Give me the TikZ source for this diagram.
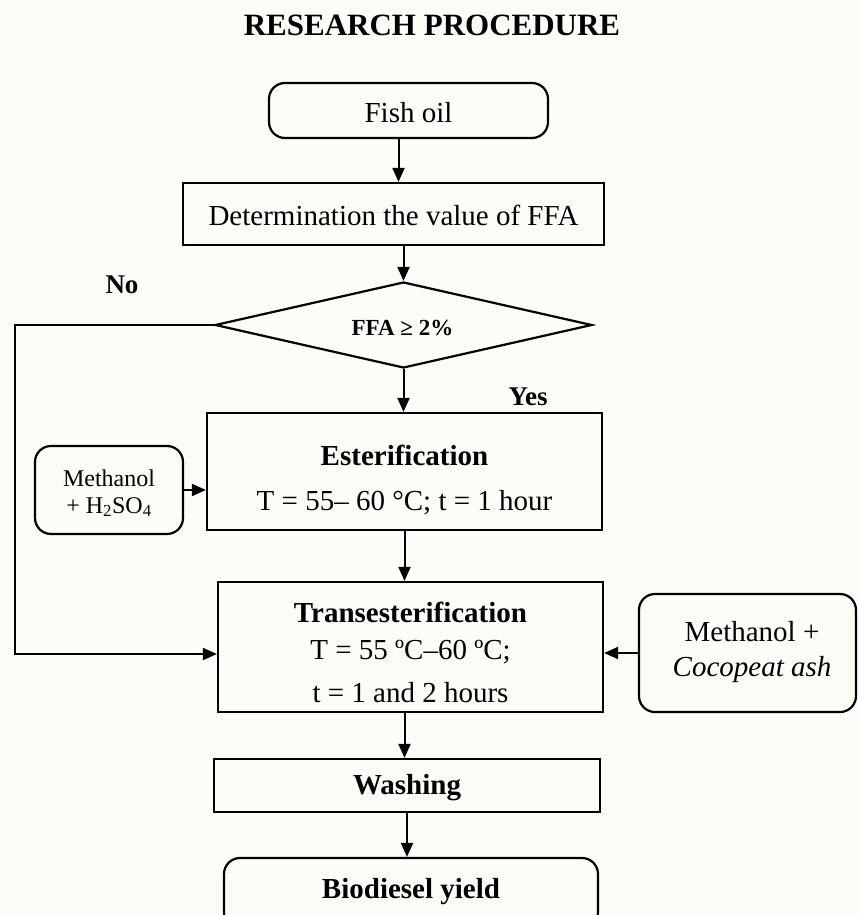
\documentclass[tikz,border=0pt]{standalone}
\usepackage{fontspec}
\setmainfont{Liberation Serif}
\usetikzlibrary{arrows.meta,shapes.geometric}
\definecolor{bg}{RGB}{253,253,248}
\begin{document}
\begin{tikzpicture}[x=1pt,y=-1pt,
  box/.style={draw, line width=2.2pt, inner sep=0pt},
  rbox/.style={box, rounded corners=16pt},
  txt/.style={inner sep=0pt, font=\fontsize{29}{34}\selectfont},
  btxt/.style={inner sep=0pt, font=\fontsize{29}{34}\selectfont\bfseries},
  stxt/.style={inner sep=0pt, font=\fontsize{24}{28}\selectfont},
  arr/.style={line width=2pt, -{Triangle[length=14pt,width=12pt]}}]
\clip (0,0) rectangle (858,915);
\fill[bg] (0,0) rectangle (858,915);

% title
\node[inner sep=0pt, font=\fontsize{31}{36}\selectfont\bfseries] (title) at (432,25) {RESEARCH PROCEDURE};

% boxes
\node[rbox, minimum width=279pt, minimum height=55pt] (fish) at (408.5,110.5) {};
\node[box, minimum width=421pt, minimum height=62pt] (det) at (393.5,214) {};
\node[diamond, draw, line width=2.2pt, inner sep=0pt, minimum width=377pt, minimum height=86pt] (dec) at (403.5,325) {};
\node[box, minimum width=395pt, minimum height=117pt] (ester) at (404.5,471.5) {};
\node[rbox, minimum width=148pt, minimum height=88pt] (meth1) at (109,490) {};
\node[box, minimum width=385pt, minimum height=130pt] (trans) at (410.5,647) {};
\node[rbox, minimum width=217pt, minimum height=118pt] (meth2) at (747.5,653) {};
\node[box, minimum width=386pt, minimum height=53pt] (wash) at (407,785.5) {};
\node[rbox, minimum width=374pt, minimum height=70pt] (bio) at (411,893) {};

% texts
\node[txt] (fishT) at (408.5,113) {Fish oil};
\node[txt] (detT) at (393.5,215) {Determination the value of FFA};
\node[inner sep=0pt, font=\fontsize{23}{27}\selectfont\bfseries] (decT) at (402.5,328) {FFA ≥ 2\%};
\node[inner sep=0pt, font=\fontsize{27}{32}\selectfont\bfseries] (noT) at (122,285) {No};
\node[inner sep=0pt, font=\fontsize{27}{32}\selectfont\bfseries] (yesT) at (528,397) {Yes};
\node[btxt] (esterT1) at (404.5,455) {Esterification};
\node[txt] (esterT2) at (404.5,503) {T = 55– 60 °C; t = 1 hour};
\node[stxt] (meth1T1) at (109,478) {Methanol};
\node[stxt] (meth1T2) at (109,507) {+ H\textsubscript{2}SO\textsubscript{4}};
\node[btxt] (transT1) at (410.5,612) {Transesterification};
\node[txt] (transT2) at (410.5,652) {T = 55 ºC–60 ºC;};
\node[txt] (transT3) at (410.5,693) {t = 1 and 2 hours};
\node[txt] (meth2T1) at (752,632) {Methanol +};
\node[txt, font=\fontsize{29}{34}\selectfont\itshape] (meth2T2) at (752,670) {Cocopeat ash};
\node[btxt] (washT) at (407,788) {Washing};
\node[btxt] (bioT) at (411,892) {Biodiesel yield};

% connectors
\coordinate (c1) at (15,325);
\coordinate (c2) at (15,654);
\draw[arr] ([xshift=-10pt]fish.south) -- ([xshift=-10pt]fish.south |- det.north);
\draw[arr] (dec.north |- det.south) -- (dec.north);
\draw[arr] (dec.south) -- (dec.south |- ester.north);
\draw[arr] (meth1.east) -- (meth1.east -| ester.west);
\draw[arr] (ester.south) -- (ester.south |- trans.north);
\draw[arr] (meth2.west) -- (meth2.west -| trans.east);
\draw[arr] (dec.west) -- (c1 |- dec.west) -- (c2) -- (c2 -| trans.west);
\draw[arr] (ester.south |- trans.south) -- (ester.south |- wash.north);
\draw[arr] (wash.south) -- (wash.south |- bio.north);
\end{tikzpicture}
\end{document}
